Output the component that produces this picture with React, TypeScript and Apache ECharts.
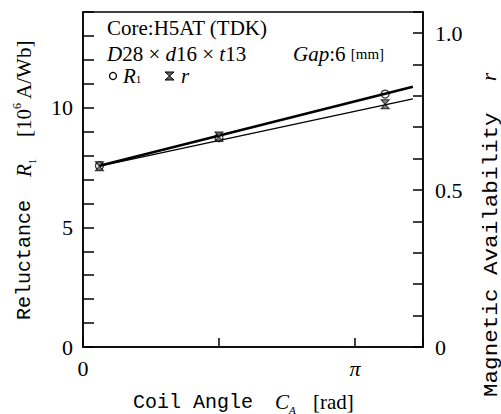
import React, { useEffect, useRef } from 'react';
import * as echarts from 'echarts';

// Measured data (x: coil angle in rad)
const angles = [0.19, 1.57, 3.49];
const reluctance = [7.57, 8.75, 10.57];
const availability = [0.576, 0.67, 0.773];
// Fitted lines (end points)
const fitAngles = [0.19, 3.81];
const fitReluctance = [7.57, 10.88];
const fitAvailability = [0.576, 0.79];
// Tick labels
const leftTickValues = [0, 5, 10];
const rightTickValues = [0, 0.5, 1.0];
const rightTickLabels = ['0', '0.5', '1.0'];
const xTickValues = [0, Math.PI];
const xTickLabels = ['0', '{pi|π}'];

const SERIF = '"Liberation Serif", "Times New Roman", serif';
const MONO = '"Liberation Mono", "DejaVu Sans Mono", monospace';

const findLabel = (v: number, values: number[], labels: string[]) => {
  for (let i = 0; i < values.length; i++) {
    if (Math.abs(v - values[i]) < 1e-6) return labels[i];
  }
  return '';
};

export default function App() {
  const ref = useRef<HTMLDivElement>(null);
  useEffect(() => {
    if (!ref.current) return;
    const chart = echarts.init(ref.current, undefined, { renderer: 'svg' });
    const axisLine = { show: true, onZero: false, lineStyle: { color: '#000', width: 1.5 } };
    const sub = { fontFamily: SERIF, fontSize: 11, fill: '#000', lineHeight: 12, verticalAlign: 'bottom' };
    const ital = { fontFamily: SERIF, fontSize: 21, fontStyle: 'italic', fill: '#000', lineHeight: 26 };
    const norm = { fontFamily: SERIF, fontSize: 21, fill: '#000', lineHeight: 26 };
    // compact styles for the annotation block
    const italA = { ...ital, lineHeight: 19 };
    const normA = { ...norm, lineHeight: 19 };
    const subA = { fontFamily: SERIF, fontSize: 11, fill: '#000', lineHeight: 9, verticalAlign: 'bottom' };
    const option: any = {
      animation: false,
      backgroundColor: '#fff',
      grid: { left: 83, right: 78, top: 12, bottom: 67, show: true, borderColor: '#000', borderWidth: 1.5, backgroundColor: 'transparent' },
      xAxis: {
        type: 'value', min: 0, max: (5 * Math.PI) / 4, interval: Math.PI / 2,
        axisLine,
        axisTick: { inside: true, length: 9, lineStyle: { color: '#000', width: 1.5 } },
        splitLine: { show: false },
        axisLabel: {
          margin: 10, color: '#000', fontFamily: SERIF, fontSize: 22,
          formatter: (v: number) => findLabel(v, xTickValues, xTickLabels),
          rich: { pi: { fontFamily: SERIF, fontSize: 22, fontStyle: 'italic', color: '#000' } },
        },
      },
      yAxis: [
        {
          type: 'value', min: 0, max: 14, interval: 1, position: 'left',
          axisLine,
          axisTick: { inside: true, length: 11, lineStyle: { color: '#000', width: 1.5 } },
          splitLine: { show: false },
          axisLabel: {
            margin: 10, color: '#000', fontFamily: SERIF, fontSize: 22,
            formatter: (v: number) => findLabel(v, leftTickValues, leftTickValues.map(String)),
          },
        },
        {
          type: 'value', min: 0, max: 1.067, interval: 0.1, position: 'right',
          axisLine,
          axisTick: { inside: true, length: 10, lineStyle: { color: '#000', width: 1.5 } },
          splitLine: { show: false },
          axisLabel: {
            margin: 12, color: '#000', fontFamily: SERIF, fontSize: 22,
            formatter: (v: number) => findLabel(v, rightTickValues, rightTickLabels),
          },
        },
      ],
      series: [
        {
          type: 'line', yAxisIndex: 0, symbol: 'none', showSymbol: false, z: 2,
          data: fitAngles.map((x, i) => [x, fitReluctance[i]]),
          lineStyle: { color: '#000', width: 2.6 },
        },
        {
          type: 'line', yAxisIndex: 1, symbol: 'none', showSymbol: false, z: 2,
          data: fitAngles.map((x, i) => [x, fitAvailability[i]]),
          lineStyle: { color: '#000', width: 1.3 },
        },
        {
          type: 'scatter', yAxisIndex: 0, symbol: 'circle', symbolSize: 8, z: 3,
          data: angles.map((x, i) => [x, reluctance[i]]),
          itemStyle: { color: 'rgba(0,0,0,0)', borderColor: '#000', borderWidth: 1.3 },
        },
        {
          type: 'scatter', yAxisIndex: 1, symbol: 'path://M0,0L10,0L0,10L10,10Z', symbolSize: [8, 9], z: 4,
          data: angles.map((x, i) => [x, availability[i]]),
          itemStyle: { color: '#666', borderColor: '#000', borderWidth: 1 },
        },
      ],
      graphic: [
        // annotation block
        { type: 'text', x: 107, y: 28, style: { text: 'Core:H5AT (TDK)', fontFamily: SERIF, fontSize: 21, lineHeight: 20, fill: '#000', verticalAlign: 'middle' } },
        {
          type: 'text', x: 107, y: 54,
          style: {
            text: '{i|D}{n|28 × }{i|d}{n|16 × }{i|t}{n|13}', fontFamily: SERIF, fontSize: 21, fill: '#000', verticalAlign: 'middle',
            rich: { i: italA, n: normA },
          },
        },
        {
          type: 'text', x: 293, y: 54,
          style: {
            text: '{i|Gap}{n|:6 }{s|[mm]}', fontFamily: SERIF, fontSize: 21, fill: '#000', verticalAlign: 'middle',
            rich: { i: italA, n: normA, s: { fontFamily: SERIF, fontSize: 15, fill: '#000', lineHeight: 19 } },
          },
        },
        { type: 'circle', shape: { cx: 113, cy: 76, r: 3.5 }, style: { fill: 'none', stroke: '#000', lineWidth: 1.3 } },
        {
          type: 'text', x: 123, y: 76,
          style: { text: '{i|R}{sub|1}', verticalAlign: 'middle', rich: { i: { ...italA, lineHeight: 17 }, sub: subA } },
        },
        { type: 'polygon', shape: { points: [[165, 72], [174, 72], [165, 80], [174, 80]] }, style: { fill: '#666', stroke: '#000', lineWidth: 1 } },
        { type: 'text', x: 181, y: 76, style: { text: 'r', fontFamily: SERIF, fontSize: 21, lineHeight: 17, fontStyle: 'italic', fill: '#000', verticalAlign: 'middle' } },
        // left axis title
        { type: 'text', x: 24, y: 320, rotation: Math.PI / 2, style: { text: 'Reluctance', fontFamily: MONO, fontSize: 20, fill: '#000', align: 'left', verticalAlign: 'middle' } },
        {
          type: 'text', x: 24, y: 177, rotation: Math.PI / 2,
          style: { text: '{i|R}{sub|1}', align: 'left', verticalAlign: 'middle', rich: { i: ital, sub } },
        },
        {
          type: 'text', x: 24, y: 137, rotation: Math.PI / 2,
          style: {
            text: '{n|[10}{sup|6}{n| A/Wb]}', align: 'left', verticalAlign: 'middle',
            rich: { n: norm, sup: { fontFamily: SERIF, fontSize: 12, fill: '#000', lineHeight: 12, verticalAlign: 'top' } },
          },
        },
        // right axis title
        { type: 'text', x: 491, y: 397, rotation: Math.PI / 2, scaleX: 1.13, style: { text: 'Magnetic Availability', fontFamily: MONO, fontSize: 20, fill: '#000', align: 'left', verticalAlign: 'middle' } },
        { type: 'text', x: 489, y: 81, rotation: Math.PI / 2, style: { text: 'r', fontFamily: SERIF, fontSize: 21, fontStyle: 'italic', fill: '#000', align: 'left', verticalAlign: 'middle' } },
        // x axis title
        { type: 'text', x: 133, y: 402, style: { text: 'Coil Angle', fontFamily: MONO, fontSize: 20, fill: '#000', align: 'left', verticalAlign: 'middle' } },
        {
          type: 'text', x: 275, y: 402,
          style: { text: '{i|C}{sub|A}', align: 'left', verticalAlign: 'middle', rich: { i: ital, sub: { ...sub, fontStyle: 'italic' } } },
        },
        { type: 'text', x: 313, y: 402, style: { text: '[rad]', fontFamily: SERIF, fontSize: 21, fill: '#000', align: 'left', verticalAlign: 'middle' } },
      ],
    };
    chart.setOption(option);
    return () => chart.dispose();
  }, []);
  return <div ref={ref} style={{ position: 'fixed', left: 0, top: 0, width: 501, height: 414, background: '#fff' }} />;
}
